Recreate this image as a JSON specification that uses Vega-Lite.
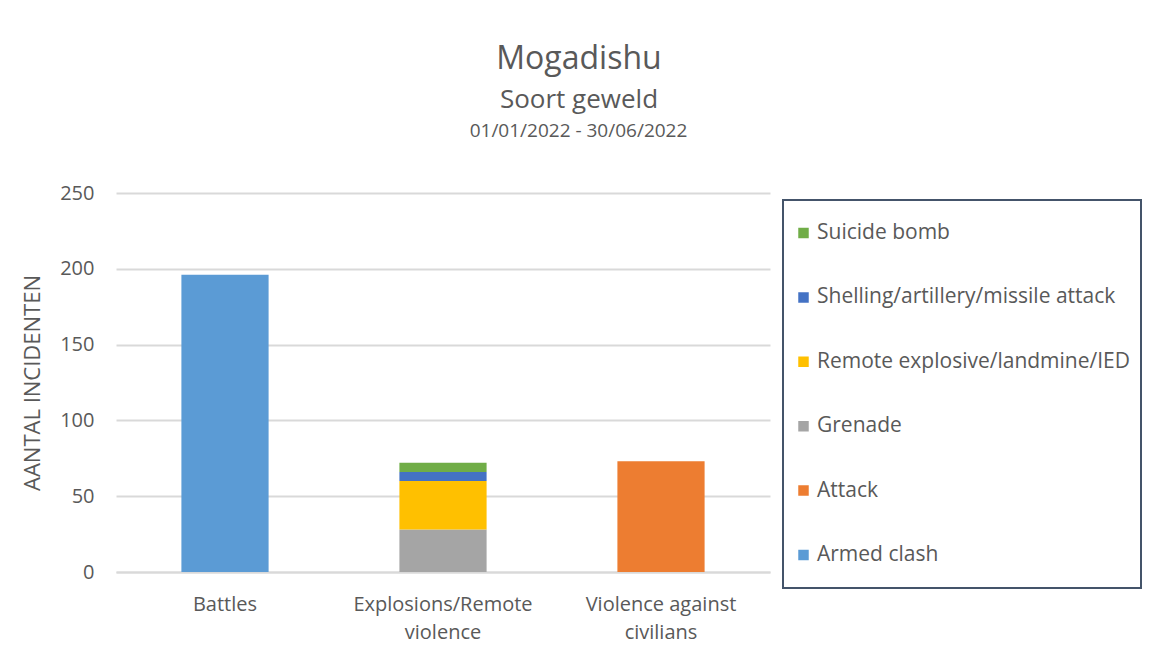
{
  "$schema": "https://vega.github.io/schema/vega-lite/v6.json",
  "width": 654,
  "height": 379,
  "autosize": {"type": "none"},
  "padding": {"left": 116, "top": 193, "right": 386, "bottom": 97},
  "background": "white",
  "title": {
    "text": "Mogadishu",
    "subtitle": "Soort geweld",
    "anchor": "middle",
    "frame": "group",
    "dx": 136,
    "fontSize": 32,
    "fontWeight": "normal",
    "font": "Open Sans",
    "color": "#595959",
    "subtitleFont": "Open Sans",
    "subtitleFontSize": 26,
    "subtitleColor": "#595959",
    "subtitlePadding": 11,
    "offset": 7
  },
  "data": {
    "values": [
      {"category": "Battles", "type": "Armed clash", "count": 196},
      {"category": "Explosions/Remote violence", "type": "Grenade", "count": 28},
      {"category": "Explosions/Remote violence", "type": "Remote explosive/landmine/IED", "count": 32},
      {"category": "Explosions/Remote violence", "type": "Shelling/artillery/missile attack", "count": 6},
      {"category": "Explosions/Remote violence", "type": "Suicide bomb", "count": 6},
      {"category": "Violence against civilians", "type": "Attack", "count": 73}
    ]
  },
  "layer": [
    {
      "mark": {"type": "bar"},
      "encoding": {
        "x": {
          "field": "category",
          "type": "nominal",
          "sort": null,
          "scale": {"paddingInner": 0.6, "paddingOuter": 0.3},
          "axis": {
            "orient": "bottom",
            "title": null,
            "labelAngle": 0,
            "labelFont": "Open Sans",
            "labelFontSize": 20,
            "labelColor": "#595959",
            "labelPadding": 22,
            "labelLineHeight": 28,
            "labelExpr": "lastindexof(datum.label, ' ') > 0 ? [substring(datum.label, 0, lastindexof(datum.label, ' ')), substring(datum.label, lastindexof(datum.label, ' ') + 1)] : datum.label",
            "ticks": false,
            "domain": true,
            "domainColor": "#d9d9d9",
            "domainWidth": 2,
            "grid": false
          }
        },
        "y": {
          "field": "count",
          "type": "quantitative",
          "scale": {"domain": [0, 250], "nice": false, "padding": 0},
          "axis": {
            "title": "AANTAL INCIDENTEN",
            "titleFont": "Open Sans",
            "titleFontSize": 22,
            "titleFontWeight": "normal",
            "titleColor": "#595959",
            "titlePadding": 15,
            "values": [0, 50, 100, 150, 200, 250],
            "labelFont": "Open Sans",
            "labelFontSize": 20,
            "labelColor": "#595959",
            "labelPadding": 22,
            "ticks": false,
            "domain": false,
            "grid": true,
            "gridColor": "#d9d9d9",
            "gridWidth": 2
          }
        },
        "color": {
          "field": "type",
          "type": "nominal",
          "sort": "descending",
          "scale": {
            "domain": ["Suicide bomb", "Shelling/artillery/missile attack", "Remote explosive/landmine/IED", "Grenade", "Attack", "Armed clash"],
            "range": ["#70AD47", "#4472C4", "#FFC000", "#A5A5A5", "#ED7D31", "#5B9BD5"]
          },
          "legend": {
            "title": null,
            "orient": "none",
            "legendX": 667,
            "legendY": 7,
            "padding": 10,
            "strokeColor": "#44546a",
            "fillColor": "white",
            "clipHeight": 46,
            "rowPadding": 18.4,
            "symbolType": "square",
            "symbolSize": 110,
            "symbolStrokeWidth": 0,
            "labelFont": "Open Sans",
            "labelFontSize": 21,
            "labelColor": "#595959",
            "labelOffset": 3,
            "labelLimit": 400
          }
        },
        "order": {"field": "type", "type": "nominal", "sort": "ascending"}
      }
    },
    {
      "mark": {"type": "tick", "opacity": 0},
      "encoding": {
        "x": {
          "field": "category",
          "type": "nominal",
          "sort": null,
          "axis": {
            "orient": "top",
            "title": "01/01/2022 - 30/06/2022",
            "titleFont": "Open Sans",
            "titleFontSize": 19,
            "titleFontWeight": "normal",
            "titleColor": "#595959",
            "titlePadding": 53,
            "titleX": 462,
            "labels": false,
            "ticks": false,
            "domain": false,
            "grid": false
          }
        },
        "y": {"field": "count", "type": "quantitative"}
      }
    }
  ],
  "resolve": {"axis": {"x": "independent"}},
  "config": {"view": {"stroke": null}, "legend": {"strokeWidth": 2}}
}
